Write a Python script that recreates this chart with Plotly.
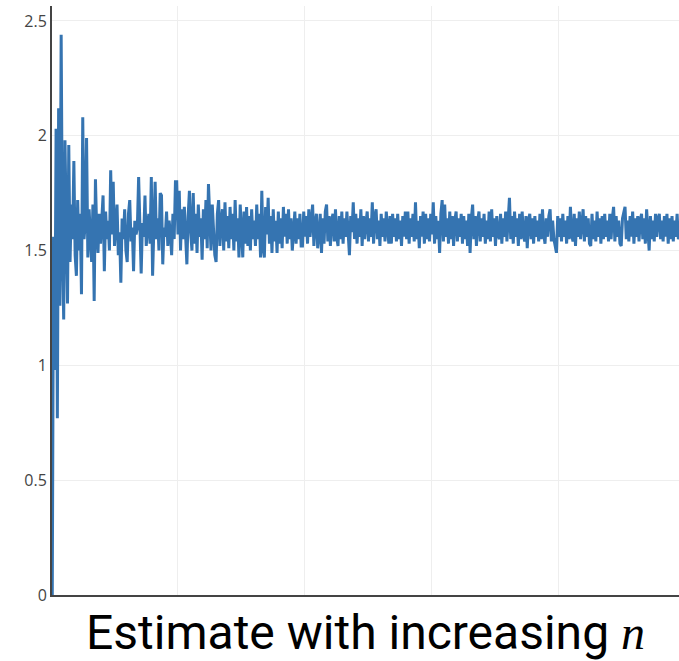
import plotly.graph_objects as go

# Running estimate values for n = 1, 2, 3, ...
estimate = [
    0.00, 1.56, 0.98, 2.03, 0.77, 2.12, 1.26, 2.44, 1.52, 1.20, 1.98, 1.62, 1.27, 1.96, 1.45, 1.70, 1.55, 1.89, 1.48, 1.39,
    1.72, 1.50, 1.66, 1.31, 2.08, 1.55, 1.62, 1.99, 1.47, 1.68, 1.52, 1.45, 1.70, 1.28, 1.81, 1.58, 1.49, 1.66, 1.53, 1.62,
    1.74, 1.41, 1.67, 1.55, 1.63, 1.50, 1.85, 1.57, 1.80, 1.52, 1.61, 1.70, 1.48, 1.58, 1.36, 1.64, 1.55, 1.68, 1.50, 1.45,
    1.66, 1.72, 1.54, 1.60, 1.41, 1.63, 1.57, 1.60, 1.82, 1.55, 1.40, 1.62, 1.56, 1.74, 1.52, 1.60, 1.66, 1.53, 1.82, 1.39,
    1.62, 1.80, 1.55, 1.64, 1.50, 1.75, 1.74, 1.44, 1.60, 1.56, 1.67, 1.52, 1.63, 1.58, 1.48, 1.66, 1.55, 1.80, 1.80, 1.57,
    1.76, 1.50, 1.68, 1.55, 1.69, 1.52, 1.44, 1.65, 1.76, 1.58, 1.50, 1.75, 1.53, 1.66, 1.49, 1.70, 1.56, 1.64, 1.46, 1.68,
    1.55, 1.72, 1.51, 1.79, 1.62, 1.50, 1.70, 1.55, 1.48, 1.45, 1.66, 1.72, 1.52, 1.63, 1.68, 1.50, 1.71, 1.54, 1.65, 1.51,
    1.69, 1.55, 1.66, 1.50, 1.72, 1.54, 1.64, 1.47, 1.70, 1.58, 1.47, 1.67, 1.53, 1.69, 1.52, 1.65, 1.50, 1.68, 1.55, 1.63,
    1.52, 1.70, 1.55, 1.66, 1.47, 1.76, 1.51, 1.47, 1.69, 1.57, 1.73, 1.53, 1.65, 1.49, 1.68, 1.54, 1.63, 1.49, 1.67, 1.53,
    1.64, 1.51, 1.69, 1.56, 1.66, 1.53, 1.68, 1.55, 1.64, 1.50, 1.62, 1.67, 1.53, 1.64, 1.55, 1.66, 1.52, 1.52, 1.67, 1.56,
    1.65, 1.53, 1.68, 1.56, 1.63, 1.70, 1.52, 1.62, 1.66, 1.51, 1.57, 1.66, 1.49, 1.64, 1.53, 1.67, 1.70, 1.54, 1.65, 1.52,
    1.63, 1.66, 1.54, 1.68, 1.56, 1.52, 1.65, 1.55, 1.67, 1.53, 1.64, 1.56, 1.67, 1.54, 1.48, 1.65, 1.58, 1.71, 1.55, 1.66,
    1.53, 1.64, 1.56, 1.68, 1.52, 1.65, 1.55, 1.62, 1.67, 1.54, 1.64, 1.56, 1.71, 1.53, 1.65, 1.68, 1.55, 1.63, 1.52, 1.66,
    1.56, 1.64, 1.54, 1.67, 1.58, 1.53, 1.65, 1.53, 1.66, 1.56, 1.64, 1.54, 1.66, 1.55, 1.63, 1.52, 1.65, 1.56, 1.67, 1.55,
    1.67, 1.53, 1.64, 1.56, 1.66, 1.54, 1.71, 1.55, 1.63, 1.51, 1.65, 1.56, 1.67, 1.53, 1.66, 1.55, 1.64, 1.54, 1.66, 1.57,
    1.71, 1.53, 1.65, 1.55, 1.63, 1.49, 1.66, 1.72, 1.54, 1.70, 1.56, 1.64, 1.53, 1.67, 1.55, 1.65, 1.52, 1.63, 1.67, 1.54,
    1.64, 1.56, 1.66, 1.53, 1.65, 1.55, 1.63, 1.52, 1.66, 1.49, 1.64, 1.70, 1.55, 1.65, 1.52, 1.63, 1.67, 1.54, 1.64, 1.56,
    1.66, 1.53, 1.63, 1.55, 1.67, 1.54, 1.68, 1.56, 1.64, 1.52, 1.65, 1.57, 1.55, 1.66, 1.53, 1.64, 1.56, 1.67, 1.54, 1.63,
    1.73, 1.55, 1.65, 1.53, 1.67, 1.56, 1.64, 1.52, 1.66, 1.55, 1.67, 1.57, 1.54, 1.65, 1.51, 1.63, 1.66, 1.55, 1.64, 1.53,
    1.65, 1.56, 1.63, 1.54, 1.66, 1.55, 1.68, 1.57, 1.53, 1.64, 1.56, 1.65, 1.68, 1.54, 1.63, 1.55, 1.52, 1.49, 1.65, 1.56,
    1.64, 1.54, 1.66, 1.56, 1.63, 1.53, 1.65, 1.55, 1.69, 1.57, 1.54, 1.66, 1.52, 1.64, 1.56, 1.67, 1.55, 1.63, 1.68, 1.54,
    1.65, 1.56, 1.64, 1.53, 1.52, 1.66, 1.55, 1.63, 1.54, 1.67, 1.56, 1.64, 1.53, 1.65, 1.55, 1.66, 1.56, 1.63, 1.54, 1.66,
    1.55, 1.64, 1.69, 1.54, 1.65, 1.56, 1.63, 1.53, 1.52, 1.64, 1.66, 1.69, 1.55, 1.63, 1.54, 1.65, 1.56, 1.67, 1.53, 1.64,
    1.56, 1.65, 1.54, 1.63, 1.66, 1.55, 1.64, 1.53, 1.68, 1.56, 1.50, 1.65, 1.55, 1.63, 1.54, 1.66, 1.56, 1.64, 1.66, 1.55,
    1.63, 1.54, 1.65, 1.56, 1.66, 1.53, 1.64, 1.55, 1.65, 1.54, 1.63, 1.56, 1.66, 1.55, 1.57,
]
n_values = list(range(1, len(estimate) + 1))

y_tickvals = [0, 0.5, 1, 1.5, 2, 2.5]
y_ticktext = ["0", "0.5", "1", "1.5", "2", "2.5"]
title_text = 'Estimate with increasing <span style="font-family:Liberation Serif;font-style:italic">n</span>'

fig = go.Figure()
fig.add_trace(go.Scatter(
    x=n_values, y=estimate, mode="lines",
    line=dict(color="#3574b1", width=3),
    showlegend=False,
))

fig.update_layout(
    width=679, height=661,
    margin=dict(l=52, r=0, t=6, b=66, autoexpand=False),
    paper_bgcolor="white", plot_bgcolor="white",
    font=dict(family="Open Sans", color="#444"),
    xaxis=dict(
        range=[0.79, 494.5],
        tickvals=[100, 200, 300, 400],
        showticklabels=False,
        showgrid=True, gridcolor="#eee", gridwidth=1,
        zeroline=False,
        showline=True, linecolor="#444", linewidth=2,
        automargin=False,
        title=dict(text=title_text, font=dict(family="Roboto", size=48, color="black"), standoff=22),
    ),
    yaxis=dict(
        range=[0, 2.565],
        tickvals=y_tickvals, ticktext=y_ticktext,
        tickfont=dict(size=16, color="#444"),
        showgrid=True, gridcolor="#eee", gridwidth=1,
        zeroline=False,
        showline=True, linecolor="#444", linewidth=2,
        automargin=False,
    ),
)

fig.write_html("out.html")
